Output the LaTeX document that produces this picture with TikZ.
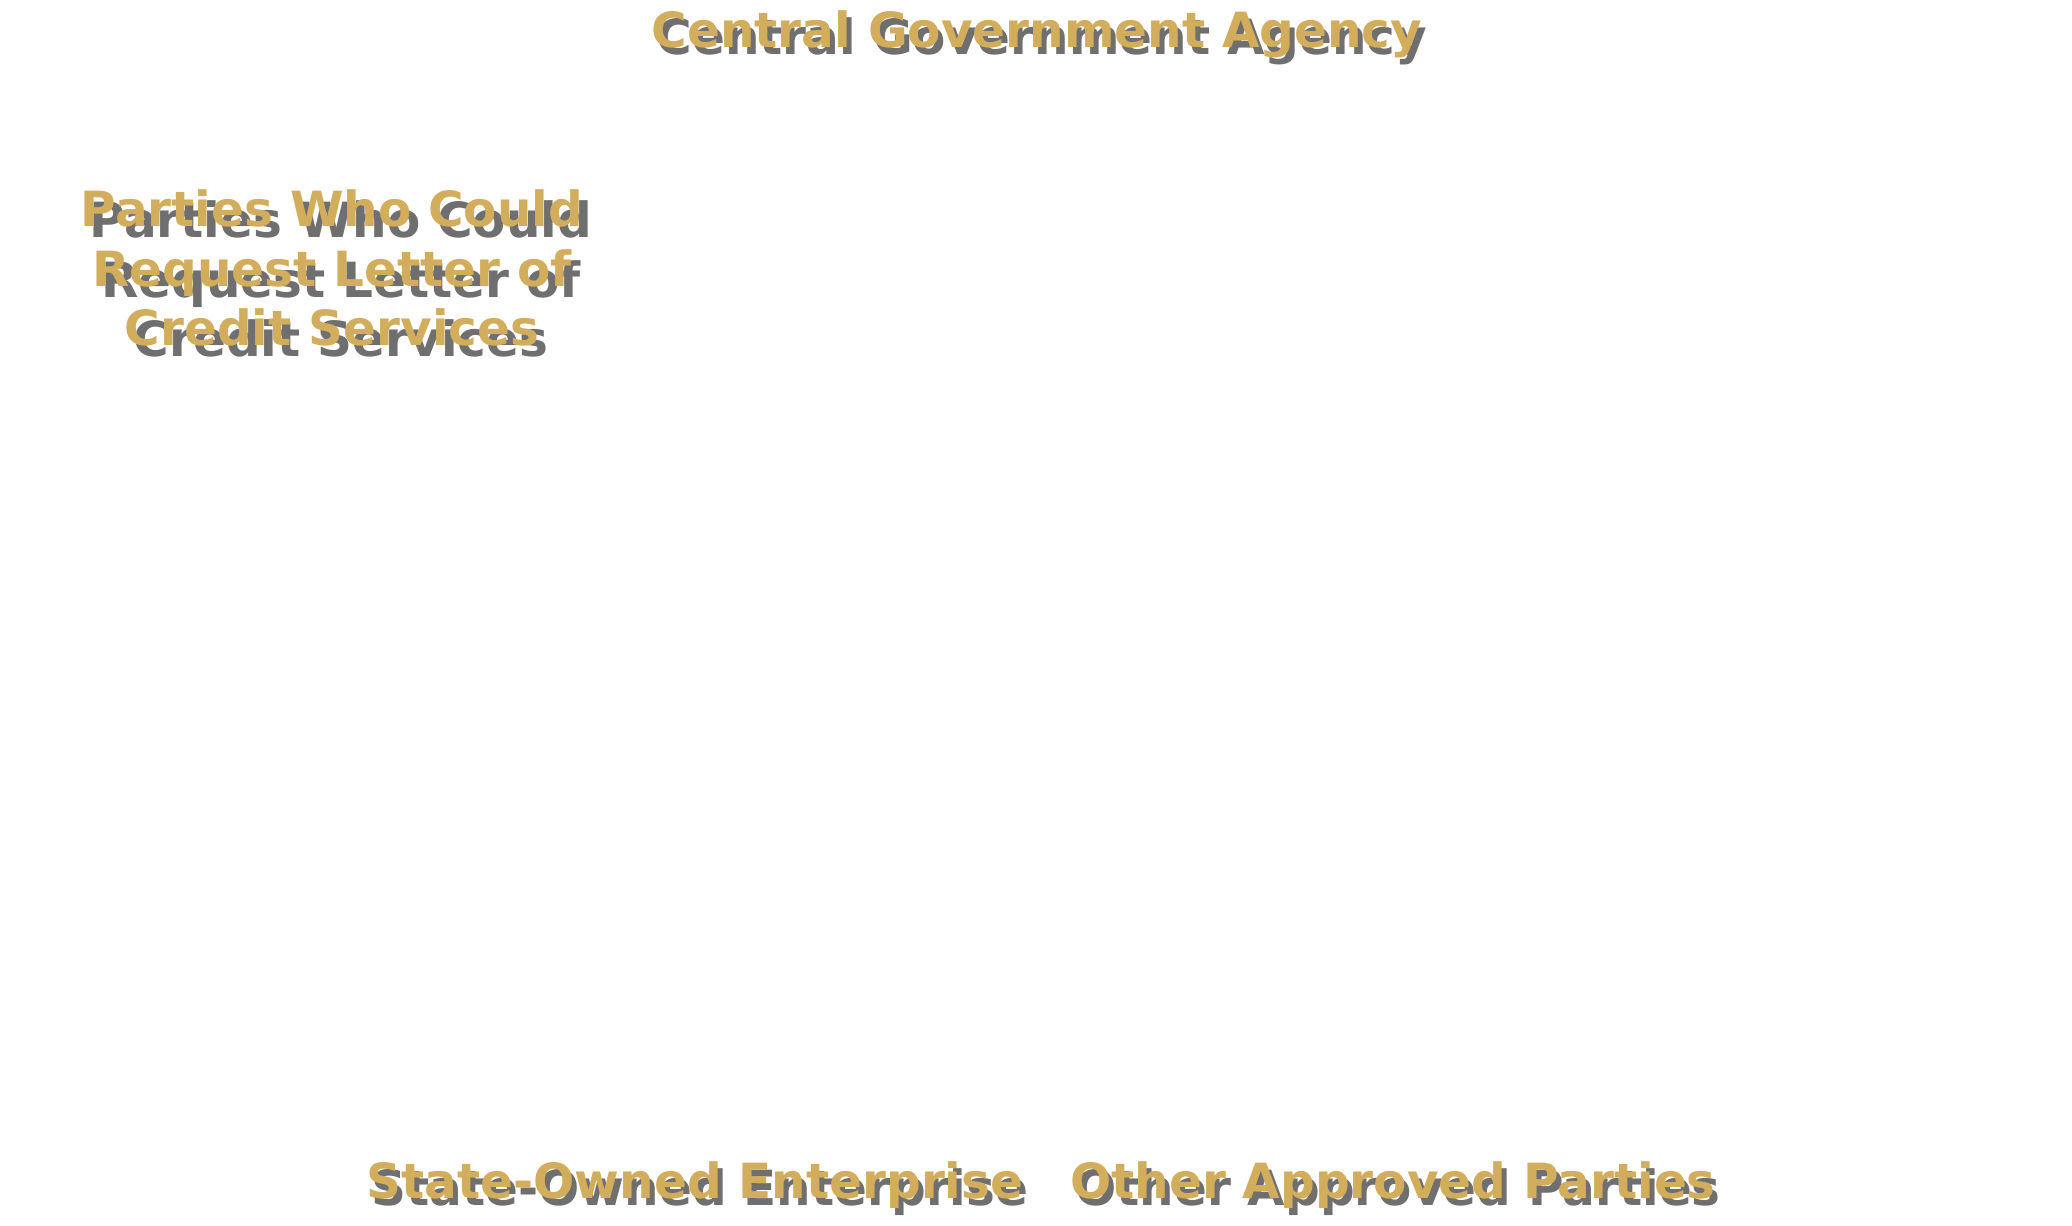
\documentclass[tikz,border=0pt]{standalone}
\usepackage{fontspec}
\setmainfont{DejaVu Sans}
\usepackage{tikz}
\usetikzlibrary{positioning}
\definecolor{GoldText}{HTML}{D2AD5C}
\definecolor{ShadowGray}{HTML}{4B4B4B}

\begin{document}
\begin{tikzpicture}[
  x=0.1mm, y=0.1mm,
  gold/.style={text=GoldText, font=\bfseries\fontsize{13.8}{17}\selectfont, inner sep=0pt, align=center},
  drop/.style={gold, text=ShadowGray, opacity=0.8}
]
\useasboundingbox (0,0) rectangle (2072,-1225);

% shadows first
\node[drop] (agency-sh) at (1042,-41) {Central Government Agency};
\node[drop] (parties-sh) at (341,-279) {Parties Who Could\\Request Letter of\\Credit Services};
\node[drop] (soe-sh) at (700,-1192) {State-Owned Enterprise};
\node[drop] (other-sh) at (1398,-1192) {Other Approved Parties};

\node[gold] (agency) at (1037,-34) {Central Government Agency};
\node[gold] (parties) at (332,-268) {Parties Who Could\\Request Letter of\\Credit Services};
\node[gold] (soe) at (695,-1185) {State-Owned Enterprise};
\node[gold] (other) at (1393,-1185) {Other Approved Parties};

\end{tikzpicture}
\end{document}
